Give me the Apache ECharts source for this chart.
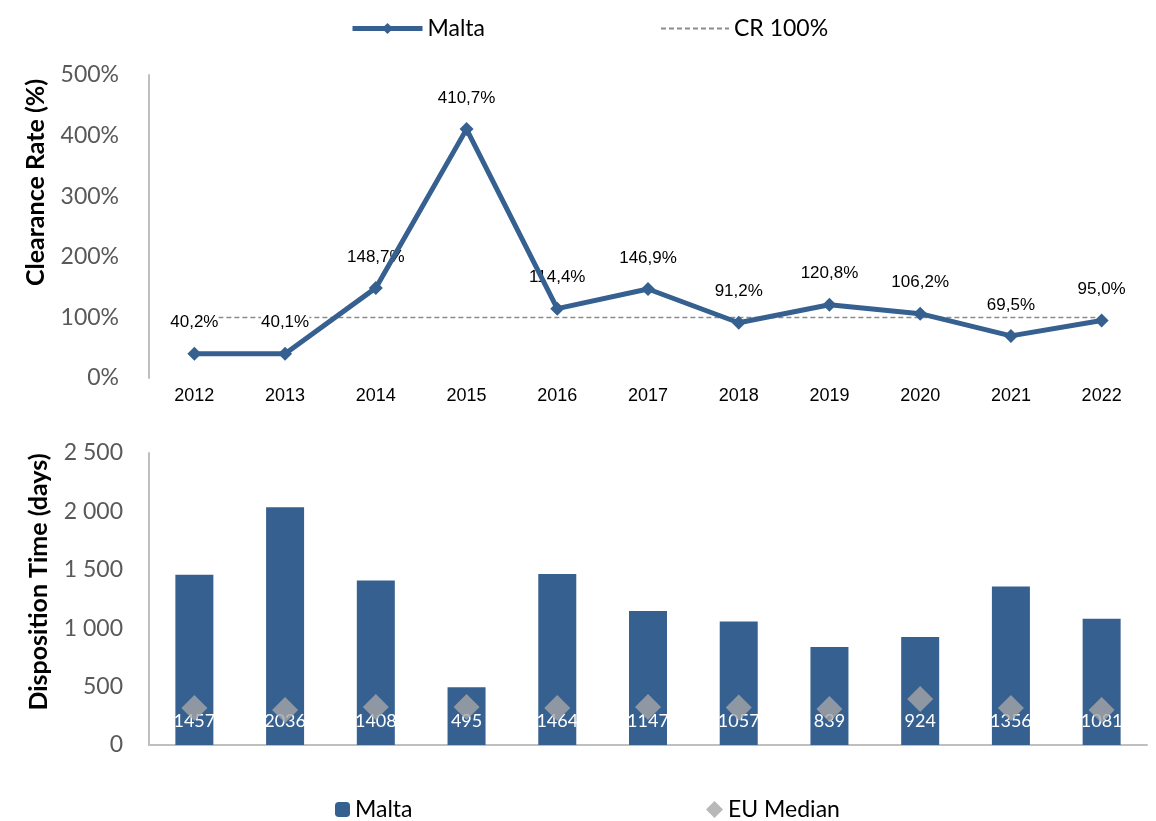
<!DOCTYPE html>
<html lang="en">
<head>
<meta charset="UTF-8">
<script src="https://cdn.jsdelivr.net/npm/echarts@6/dist/echarts.min.js"></script>
<title>Malta</title>
<style>html,body{margin:0;padding:0;background:#fff;}</style>
</head>
<body>
<div id="chart" style="width:1156px;height:821px;"></div>
<script type="text/javascript">
    var years = ['2012','2013','2014','2015','2016','2017','2018','2019','2020','2021','2022'];
    var clearanceRate = [40.2, 40.1, 148.7, 410.7, 114.4, 146.9, 91.2, 120.8, 106.2, 69.5, 95.0];
    var crRef = [100, 100, 100, 100, 100, 100, 100, 100, 100, 100, 100];
    var dispositionTime = [1457, 2036, 1408, 495, 1464, 1147, 1057, 839, 924, 1356, 1081];
    var euMedian = [317, 300, 325, 325, 317, 325, 320, 308, 394, 317, 300];

    var blue = '#36608f';
    var axisFont = 'Lato';
    var chart = echarts.init(document.getElementById('chart'));

    function spaced(v) {
        return String(v).replace(/\B(?=(\d{3})+(?!\d))/g, ' ');
    }

    var legendText = { fontSize: 23, fontFamily: axisFont, color: '#000' };

    chart.setOption({
        animation: false,
        legend: [{
            top: 12, left: 345,
            itemWidth: 70, itemHeight: 14,
            textStyle: legendText,
            data: [{ name: 'Malta', lineStyle: { width: 5 } }]
        }, {
            top: 12, left: 655,
            itemWidth: 68, itemHeight: 14,
            textStyle: legendText,
            data: [{ name: 'CR 100%', itemStyle: { opacity: 0 } }]
        }, {
            top: 793, left: 330,
            itemWidth: 15, itemHeight: 15,
            textStyle: legendText,
            data: ['Malta ']
        }, {
            top: 793, left: 701,
            itemWidth: 17, itemHeight: 17,
            textStyle: legendText,
            data: [{ name: 'EU Median', icon: 'diamond' }]
        }],
        grid: [
            { left: 149, right: 9, top: 75, height: 303 },
            { left: 149, right: 9, top: 453, height: 292 }
        ],
        xAxis: [{
            gridIndex: 0,
            type: 'category',
            data: years,
            axisLine: { show: false },
            axisTick: { show: false },
            axisLabel: { fontSize: 18, fontFamily: 'Liberation Sans', color: '#000', margin: 9 }
        }, {
            gridIndex: 1,
            type: 'category',
            data: years,
            axisLine: { lineStyle: { color: '#bfbfbf', width: 2 } },
            axisTick: { show: false },
            axisLabel: { show: false }
        }],
        yAxis: [{
            gridIndex: 0,
            type: 'value',
            min: 0,
            max: 500,
            interval: 100,
            name: 'Clearance Rate (%)',
            nameLocation: 'middle',
            nameGap: 101,
            nameTextStyle: {
                fontSize: 25, fontWeight: 'bold', fontFamily: axisFont, color: '#000',
                padding: [0, 0, 0, 88]
            },
            axisLine: { show: true, lineStyle: { color: '#bfbfbf', width: 2 } },
            splitLine: { show: false },
            axisLabel: {
                fontSize: 23, fontFamily: axisFont, color: '#595959', margin: 30,
                formatter: function (v) { return v + '%'; }
            }
        }, {
            gridIndex: 1,
            type: 'value',
            min: 0,
            max: 2500,
            interval: 500,
            name: 'Disposition Time (days)',
            nameLocation: 'middle',
            nameGap: 98,
            nameTextStyle: {
                fontSize: 25, fontWeight: 'bold', fontFamily: axisFont, color: '#000',
                padding: [0, 0, 0, 34]
            },
            axisLine: { show: true, lineStyle: { color: '#bfbfbf', width: 2 } },
            splitLine: { show: false },
            axisLabel: {
                fontSize: 23, fontFamily: axisFont, color: '#595959', margin: 26,
                formatter: spaced
            }
        }],
        series: [{
            name: 'CR 100%',
            type: 'line',
            xAxisIndex: 0,
            yAxisIndex: 0,
            data: crRef,
            symbol: 'none',
            lineStyle: { color: '#8c8c8c', width: 1.5, type: [5, 3] },
            itemStyle: { color: '#8c8c8c' },
            z: 1
        }, {
            // labels only, drawn under the Malta line but over the dashed line
            name: 'Malta labels',
            type: 'line',
            xAxisIndex: 0,
            yAxisIndex: 0,
            data: clearanceRate,
            symbol: 'circle',
            symbolSize: 1,
            itemStyle: { color: 'transparent' },
            lineStyle: { opacity: 0 },
            label: {
                show: true,
                position: 'top',
                distance: 22,
                fontSize: 17,
                fontFamily: 'Liberation Sans',
                color: '#000',
                backgroundColor: '#fff',
                formatter: function (p) { return p.value.toFixed(1).replace('.', ',') + '%'; }
            },
            z: 2
        }, {
            name: 'Malta',
            type: 'line',
            xAxisIndex: 0,
            yAxisIndex: 0,
            data: clearanceRate,
            symbol: 'diamond',
            symbolSize: 14,
            lineStyle: { color: blue, width: 5 },
            itemStyle: { color: blue },
            z: 3
        }, {
            name: 'Malta ',
            type: 'bar',
            xAxisIndex: 1,
            yAxisIndex: 1,
            data: dispositionTime,
            barWidth: 38,
            itemStyle: { color: blue },
            label: {
                show: true,
                position: 'insideBottom',
                distance: 15,
                fontSize: 18,
                fontFamily: axisFont,
                color: '#fff'
            }
        }, {
            name: 'EU Median',
            type: 'scatter',
            xAxisIndex: 1,
            yAxisIndex: 1,
            data: euMedian,
            symbol: 'diamond',
            symbolSize: 26,
            itemStyle: { color: '#a6a6a6' },
            z: 2
        }]
    });
</script>
</body>
</html>
